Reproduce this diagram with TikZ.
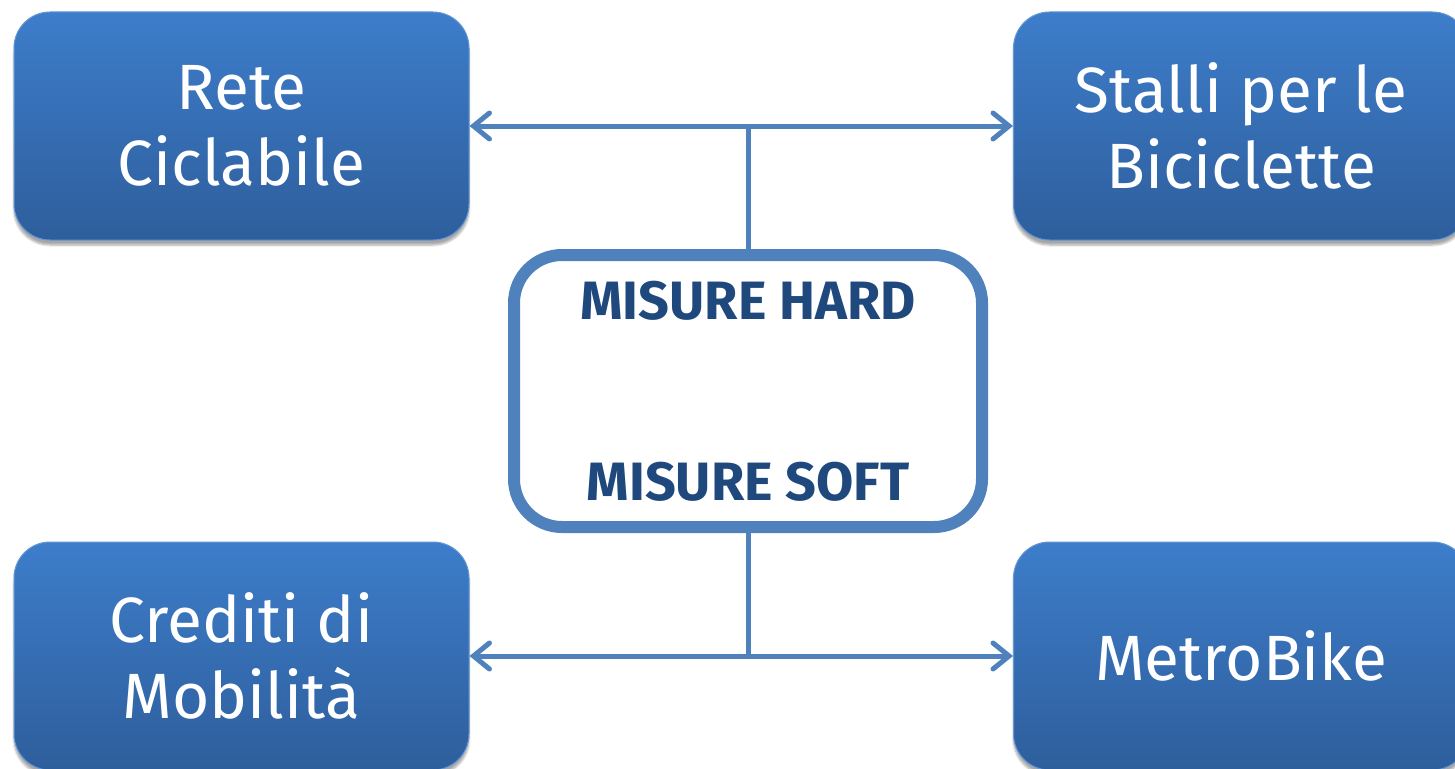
\documentclass[tikz,border=0pt]{standalone}
\usepackage{fontspec}
\setmainfont{Fira Sans}
\usetikzlibrary{shadows.blur,arrows.meta}
\definecolor{boxtop}{HTML}{3D7DCA}
\definecolor{boxbot}{HTML}{2E5E9C}
\definecolor{conncol}{HTML}{4F81BD}
\definecolor{txtdark}{HTML}{1F497D}
\tikzset{
  bluebox/.style={rectangle, rounded corners=36pt, minimum width=455pt, minimum height=228pt,
    top color=boxtop, bottom color=boxbot, draw=boxtop!80!white, line width=1pt,
    blur shadow={shadow xshift=0pt, shadow yshift=-5pt, shadow blur steps=6, shadow opacity=35},
    text=white, align=center, font=\fontsize{64}{76}\selectfont, inner sep=0pt},
  centerbox/.style={rectangle, rounded corners=48pt, minimum width=468pt, minimum height=272pt,
    draw=conncol, line width=12pt, fill=white},
  centertxt/.style={text=txtdark, font=\fontsize{54}{60}\selectfont\bfseries, inner sep=0pt},
  conn/.style={draw=conncol, line width=5pt},
  biarrow/.style={conn, {Straight Barb[length=16pt,width=26pt,line cap=round]}-{Straight Barb[length=16pt,width=26pt,line cap=round]}}
}
\begin{document}
\begin{tikzpicture}[x=1pt,y=-1pt]
\useasboundingbox (0,0) rectangle (1455,768);
\node[bluebox] (tl) at (241.5,126) {Rete\\Ciclabile};
\node[bluebox] (tr) at (1241,126) {Stalli per le\\Biciclette};
\node[bluebox] (bl) at (241.5,656) {Crediti di\\Mobilità};
\node[bluebox] (br) at (1241,656) {MetroBike};
\node[centerbox] (c) at (748,391) {};
\node[centertxt] (hard) at (748,301) {MISURE HARD};
\node[centertxt] (soft) at (748,482) {MISURE SOFT};
\coordinate (jt) at (c.north |- tl.east);
\coordinate (jb) at (c.south |- bl.east);
\draw[conn] (c.north) -- (jt);
\draw[conn] (c.south) -- (jb);
\draw[biarrow] (tl.east) -- (tr.west);
\draw[biarrow] (bl.east) -- (br.west);
\end{tikzpicture}
\end{document}
